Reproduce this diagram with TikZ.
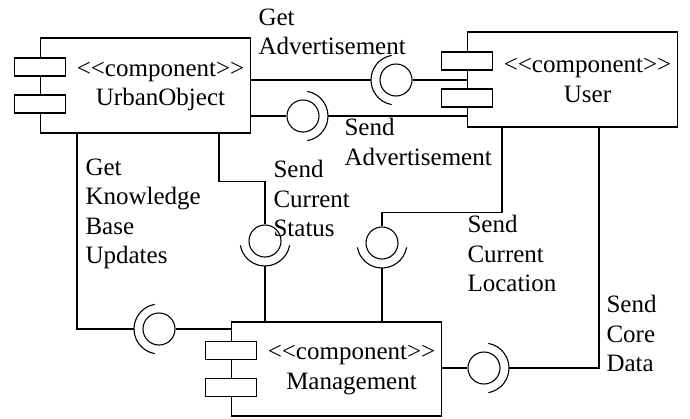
\documentclass[tikz,border=0pt]{standalone}
\usepackage{fontspec}
\setmainfont{Liberation Serif}
\newcommand{\stereo}{<\kern0pt<component>\kern0pt>}
\begin{document}
\begin{tikzpicture}[x=1pt, y=-1pt, line width=1.1pt,
                    comp/.style={rectangle,draw,minimum width=210pt,minimum height=95pt,inner sep=0pt},
                    ball/.style={circle,draw,minimum size=32pt,inner sep=0pt},
                    lbl/.style={align=left,anchor=north west,inner sep=0pt},
                    every node/.append style={font=\fontsize{25}{29.5}\selectfont}]

          \useasboundingbox (0,0) rectangle (690,418);

          \node[comp] (uo) at (145.5,85.5) {};
          \node[comp] (usr) at (572.5,79.5) {};
          \node[comp,minimum height=94pt] (mgmt) at (336.5,369) {};

          \foreach \c in {uo,usr,mgmt}
            \foreach \dy in {-18.5,18.5}
              \draw[fill=white] ([yshift=\dy pt]\c.west) +(-25.5,-9) rectangle +(25.5,9);

          \node[align=center] (uo-txt) at ([xshift=15pt,yshift=-1pt]uo.center) {\stereo\\UrbanObject};
          \node[align=center] (usr-txt) at ([xshift=15pt,yshift=-1pt]usr.center) {\stereo\\User};
          \node[align=center] (mgmt-txt) at ([xshift=15pt,yshift=-1pt]mgmt.center) {\stereo\\Management};

          \node[ball] (ga) at (396,80) {};
          \node[ball] (sa) at (303,116) {};
          \node[ball] (kb) at (159,329) {};
          \node[ball] (cs) at (265,241) {};
          \node[ball] (cl) at (382,243) {};
          \node[ball] (cd) at (484,368) {};

          \coordinate (ga-s) at ([xshift=-25pt]ga.center);
          \coordinate (kb-s) at ([xshift=-25pt]kb.center);
          \coordinate (sa-s) at ([xshift=25pt]sa.center);
          \coordinate (cd-s) at ([xshift=25pt]cd.center);
          \coordinate (cs-s) at ([yshift=-25pt]cs.center);
          \coordinate (cl-s) at ([yshift=-25pt]cl.center);

          \foreach \n/\a in {ga/100, kb/100, sa/-80, cd/-80, cs/10, cl/10}
            \draw ([shift={(\a:25)}]\n.center) arc[start angle=\a, delta angle=160, radius=25];

          \path
          (uo.east |- ga-s) edge [] node [] {} (ga-s)
          (ga) edge [] node [] {} (usr.west |- ga)

          (uo.east |- sa) edge [] node [] {} (sa)
          (sa-s) edge [] node [] {} (usr.west |- sa-s)

          (kb) edge [] node [] {} (mgmt.west |- kb)
          (mgmt.east |- cd) edge [] node [] {} (cd)

          (cs-s) edge [] node [] {} (cs-s |- mgmt.north)
          (cl-s) edge [] node [] {} (cl-s |- mgmt.north);

          \draw ([xshift=-68.5pt]uo.south) |- (kb-s);
          \draw ([xshift=73.5pt]uo.south) -- ++(0,48) -| (cs);
          \draw ([xshift=-70.5pt]usr.south) -- ++(0,85) -| (cl);
          \draw (cd-s) -| ([xshift=26.5pt]usr.south);

          \node[lbl] (ga-lbl) at (258,8) {Get\\Advertisement};
          \node[lbl] (sa-lbl) at (344,118) {Send\\Advertisement};
          \node[lbl] (kb-lbl) at (85,158) {Get\\Knowledge\\Base\\Updates};
          \node[lbl] (cs-lbl) at (273,160) {Send\\Current\\Status};
          \node[lbl] (cl-lbl) at (467,215) {Send\\Current\\Location};
          \node[lbl] (cd-lbl) at (606,295) {Send\\Core\\Data};

        \end{tikzpicture}
\end{document}
